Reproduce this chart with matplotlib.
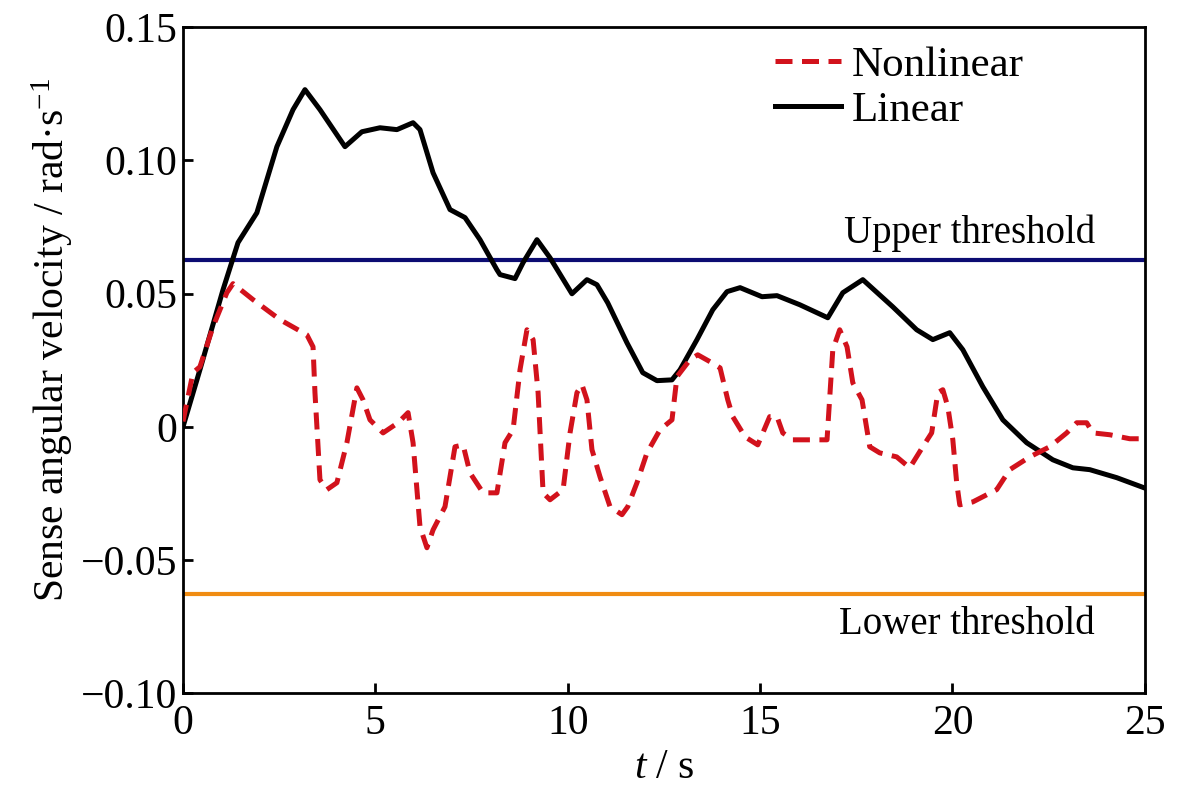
import matplotlib

matplotlib.use("Agg")
import matplotlib.pyplot as plt

FONTSIZE = 30

# Linear response
t_linear = [0.0, 0.44, 1.04, 1.43, 1.92, 2.44, 2.86, 3.17, 3.56, 4.21, 4.65, 5.12,
            5.56, 5.98, 6.16, 6.50, 6.94, 7.33, 7.72, 8.16, 8.24, 8.63, 8.84, 9.20,
            9.54, 10.11, 10.50, 10.76, 11.04, 11.54, 11.95, 12.32, 12.71, 12.92,
            13.36, 13.77, 14.14, 14.48, 15.05, 15.44, 16.03, 16.76, 17.15, 17.67,
            18.45, 19.07, 19.49, 19.93, 20.27, 20.79, 21.31, 21.93, 22.61, 23.13,
            23.57, 24.27, 25.0]
v_linear = [0.0, 0.0214, 0.0514, 0.0691, 0.0803, 0.1051, 0.1190, 0.1265, 0.1190,
            0.1051, 0.1107, 0.1122, 0.1115, 0.1141, 0.1115, 0.0953, 0.0815, 0.0785,
            0.0702, 0.0589, 0.0571, 0.0556, 0.0616, 0.0702, 0.0634, 0.0499, 0.0552,
            0.0533, 0.0465, 0.0315, 0.0203, 0.0173, 0.0176, 0.0214, 0.0327, 0.0439,
            0.0507, 0.0522, 0.0488, 0.0492, 0.0458, 0.0409, 0.0503, 0.0552, 0.0450,
            0.0364, 0.0327, 0.0353, 0.0289, 0.0150, 0.0026, -0.0060, -0.0124,
            -0.0154, -0.0161, -0.0191, -0.0230]

# Nonlinear response
t_nonlinear = [0.0, 0.26, 0.44, 0.78, 1.14, 1.30, 1.82, 2.52, 3.22, 3.38, 3.43, 3.56,
               3.74, 4.00, 4.26, 4.52, 4.68, 4.86, 5.20, 5.59, 5.85, 5.98, 6.16, 6.34,
               6.50, 6.81, 7.07, 7.28, 7.46, 7.80, 8.16, 8.37, 8.58, 8.76, 8.94, 9.10,
               9.23, 9.36, 9.54, 9.88, 10.06, 10.24, 10.37, 10.50, 10.63, 10.84, 11.10,
               11.41, 11.56, 11.80, 12.06, 12.40, 12.71, 12.84, 13.18, 13.38, 13.70,
               13.96, 14.16, 14.29, 14.61, 14.94, 15.25, 15.44, 15.59, 15.85, 16.74,
               16.89, 17.07, 17.26, 17.41, 17.65, 17.85, 18.11, 18.55, 18.89, 19.23,
               19.46, 19.62, 19.75, 19.88, 20.01, 20.11, 20.19, 20.53, 21.15, 21.49,
               22.01, 22.53, 22.97, 23.23, 23.49, 23.65, 24.09, 24.61, 25.0]
v_nonlinear = [0.002, 0.0203, 0.0225, 0.0375, 0.0503, 0.0537, 0.0477, 0.0402, 0.0345,
               0.0300, 0.0128, -0.0199, -0.0236, -0.0210, -0.0060, 0.0146, 0.0101,
               0.0026, -0.0023, 0.0015, 0.0053, -0.0060, -0.0375, -0.0454, -0.0387,
               -0.0300, -0.0075, -0.0068, -0.0173, -0.0248, -0.0248, -0.0060, -0.0011,
               0.0214, 0.0364, 0.0327, 0.0128, -0.0248, -0.0274, -0.0236, -0.0023,
               0.0128, 0.0158, 0.0101, -0.0086, -0.0188, -0.0300, -0.0330, -0.0300,
               -0.0210, -0.0098, -0.0011, 0.0026, 0.0188, 0.0252, 0.0270, 0.0244,
               0.0221, 0.0101, 0.0038, -0.0038, -0.0068, 0.0038, 0.0038, -0.0023,
               -0.0049, -0.0049, 0.0289, 0.0364, 0.0300, 0.0165, 0.0101, -0.0075,
               -0.0098, -0.0113, -0.0154, -0.0075, -0.0023, 0.0128, 0.0139, 0.0075,
               -0.0049, -0.0210, -0.0293, -0.0282, -0.0236, -0.0161, -0.0113, -0.0075,
               -0.0023, 0.0015, 0.0015, -0.0023, -0.0030, -0.0045, -0.0045]

upper_threshold = 0.0627
lower_threshold = -0.0627

x_ticks = [0, 5, 10, 15, 20, 25]
y_ticks = [-0.10, -0.05, 0, 0.05, 0.10, 0.15]
y_tick_labels = ["\u22120.10", "\u22120.05", "0", "0.05", "0.10", "0.15"]

plt.rcParams["font.family"] = ["Liberation Serif", "DejaVu Serif"]
plt.rcParams["mathtext.fontset"] = "custom"
plt.rcParams["mathtext.rm"] = "Liberation Serif"
plt.rcParams["mathtext.it"] = "Liberation Serif:italic"

fig = plt.figure(figsize=(12, 7.95), dpi=100)
ax = fig.add_axes([0.1525, 0.128, 0.8015, 0.838])

ax.axhline(upper_threshold, color="#0c0c72", lw=3.0, zorder=1)
ax.axhline(lower_threshold, color="#f08c12", lw=3.0, zorder=1)

ax.plot(t_nonlinear, v_nonlinear, color="#d2121c", lw=3.6, ls=(0, (3.4, 1.9)),
        label="Nonlinear", zorder=3)
ax.plot(t_linear, v_linear, color="black", lw=3.6, label="Linear", zorder=2,
        solid_joinstyle="round")

ax.text(23.7, 0.0728, "Upper threshold", ha="right", va="center", fontsize=28)
ax.text(23.7, -0.0743, "Lower threshold", ha="right", va="center", fontsize=28)

ax.set_xlim(0, 25)
ax.set_ylim(-0.10, 0.15)
ax.set_xticks(x_ticks)
ax.set_yticks(y_ticks)
ax.set_yticklabels(y_tick_labels)
ax.tick_params(direction="in", length=7, width=2, labelsize=FONTSIZE)
ax.tick_params(axis="x", pad=8)
ax.tick_params(axis="y", pad=4)
for sp in ax.spines.values():
    sp.set_linewidth(2)

ax.set_xlabel("$t$ / s", fontsize=FONTSIZE, labelpad=4)
ax.set_ylabel("Sense angular velocity / rad\u00b7s$^{-1}$", fontsize=FONTSIZE, labelpad=4)
ax.yaxis.label.set_y(0.53)

ax.legend(loc="upper left", bbox_to_anchor=(0.615, 0.972), frameon=False,
          fontsize=31, handlelength=1.55, handletextpad=0.25, labelspacing=0.15,
          borderpad=0, borderaxespad=0)

fig.savefig("out.png", dpi=100)
